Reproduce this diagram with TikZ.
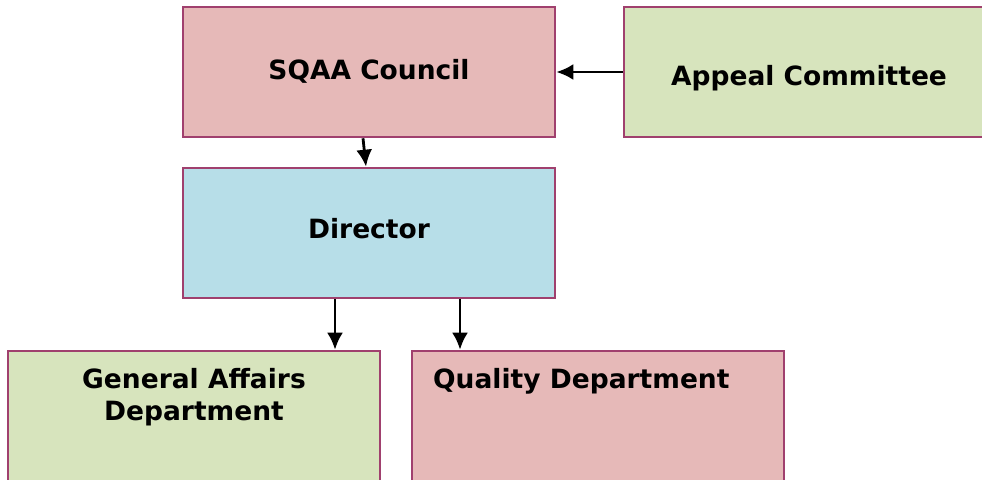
\documentclass[tikz,border=0pt]{standalone}
\usepackage{fontspec}
\setmainfont{DejaVu Sans}
\usetikzlibrary{arrows.meta}
\definecolor{councilpink}{HTML}{E6B9B8}
\definecolor{committeegreen}{HTML}{D7E4BD}
\definecolor{directorblue}{HTML}{B7DEE8}
\definecolor{boxedge}{HTML}{A0406E}
\tikzset{
	orgbox/.style={draw=boxedge, line width=2.6pt, minimum width=372pt, minimum height=130pt,
		inner sep=0pt, text height=19.3pt, text depth=0pt, font=\fontsize{26.5}{32}\selectfont\bfseries},
	orgtext/.style={font=\fontsize{26.5}{32}\selectfont\bfseries, inner sep=0pt},
	orgarrow/.style={line width=2.8pt, -{Latex[length=17pt,width=16pt]}}
}
\begin{document}
\begin{tikzpicture}[x=1pt, y=-1pt]
		\useasboundingbox (0, 0) rectangle (982, 479);
		\node[orgbox, fill=councilpink] (council) at (369, 72) {\raisebox{2pt}{SQAA Council}};
		\node[orgbox, fill=committeegreen, minimum width=370pt] (appeal) at (809, 72) {\raisebox{-4pt}{Appeal Committee}};
		\node[orgbox, fill=directorblue] (director) at (369, 233) {\raisebox{4pt}{Director}};
		\node[orgbox, fill=committeegreen] (general) at (194, 416) {};
		\node[orgbox, fill=councilpink] (quality) at (598, 416) {};
		\node[orgtext, align=center, anchor=north] (generaltext) at (194, 368) {General Affairs\\Department};
		\node[orgtext, anchor=north west] (qualitytext) at (433, 368) {Quality Department};
		\draw[orgarrow] (appeal.west) -- (council.east);
		\draw[orgarrow] ([xshift=-6pt]council.south) -- ([xshift=-3pt]director.north);
		\draw[orgarrow] ([xshift=-34pt]director.south) -- ([xshift=141pt]general.north);
		\draw[orgarrow] ([xshift=91pt]director.south) -- ([xshift=-138pt]quality.north);
	\end{tikzpicture}
\end{document}
